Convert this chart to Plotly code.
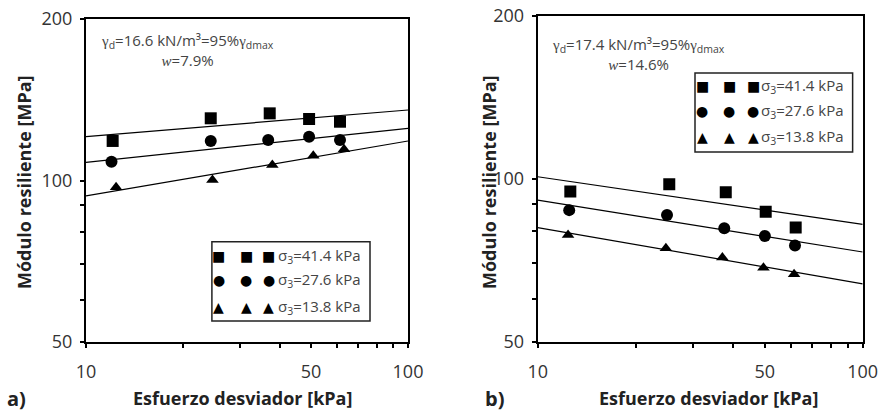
import numpy as np
import plotly.graph_objects as go

# Resilient modulus vs deviator stress, two soils (a, b), three confining stresses each
conf_labels = ["σ<sub>3</sub>=41.4 kPa", "σ<sub>3</sub>=27.6 kPa", "σ<sub>3</sub>=13.8 kPa"]
symbols = ["square", "circle", "triangle-up"]
legend_glyphs = ["■", "●", "▲"]

# Panel a) measured points (deviator stress kPa, modulus MPa)
a_x_414 = [12.1, 24.4, 37.2, 49.3, 61.5]
a_m_414 = [118.5, 130.6, 133.4, 130.2, 128.7]
a_x_276 = [12.0, 24.4, 36.8, 49.3, 61.5]
a_m_276 = [108.4, 118.5, 119.0, 120.7, 119.0]
a_x_138 = [12.4, 24.7, 37.9, 50.8, 63.3]
a_m_138 = [97.1, 100.2, 106.9, 111.2, 114.3]

# Panel a) power-law fits  M = k1 * sd^k2
a_k1 = [107.7, 93.4, 73.9]
a_k2 = [0.0496, 0.0634, 0.1025]

# Panel b) measured points
b_x_414 = [12.6, 25.4, 37.9, 50.3, 62.2]
b_m_414 = [94.8, 97.8, 94.5, 87.0, 81.4]
b_x_276 = [12.5, 25.0, 37.5, 50.0, 61.9]
b_m_276 = [87.6, 85.8, 81.1, 78.5, 75.4]
b_x_138 = [12.4, 24.8, 37.0, 49.5, 61.5]
b_m_138 = [78.8, 74.5, 71.6, 68.6, 66.7]

# Panel b) power-law fits
b_k1 = [123.6, 113.9, 103.3]
b_k2 = [-0.0879, -0.0957, -0.1039]

x_ticks = [10, 20, 30, 40, 50, 60, 70, 80, 90, 100]
x_ticktext = ["10", "", "", "", "50", "", "", "", "", "100"]
y_ticks = [50, 60, 70, 80, 90, 100, 200]
y_ticktext = ["50", "", "", "", "", "100", "200"]

fit_x = np.array([10.0, 100.0])

FONT = "Open Sans"
TXT = "#333333"

fig = go.Figure()

panels = [
    ("x", "y", [(a_x_414, a_m_414), (a_x_276, a_m_276), (a_x_138, a_m_138)], a_k1, a_k2),
    ("x2", "y2", [(b_x_414, b_m_414), (b_x_276, b_m_276), (b_x_138, b_m_138)], b_k1, b_k2),
]
marker_sizes = [12, 12, 11]

for xa, ya, series, k1s, k2s in panels:
    for k1, k2 in zip(k1s, k2s):
        fig.add_trace(go.Scatter(
            x=fit_x, y=k1 * fit_x ** k2, mode="lines",
            line=dict(color="black", width=1.2),
            xaxis=xa, yaxis=ya, showlegend=False, hoverinfo="skip"))
    for (sx, sy), sym, ms in zip(series, symbols, marker_sizes):
        fig.add_trace(go.Scatter(
            x=sx, y=sy, mode="markers",
            marker=dict(symbol=sym, size=ms, color="black"),
            xaxis=xa, yaxis=ya, showlegend=False))

axis_common = dict(
    type="log", showline=True, linewidth=2, linecolor="black", mirror=True,
    ticks="outside", ticklen=4, tickwidth=1.5, tickcolor="black",
    showgrid=False, zeroline=False, automargin=False,
    tickfont=dict(family=FONT, size=18, color=TXT),
)
x_extra = dict(ticklabelstandoff=8)
y_extra = dict(ticklabelstandoff=4)

fig.update_layout(
    width=880, height=413, autosize=False,
    margin=dict(l=0, r=0, t=0, b=0, pad=0),
    paper_bgcolor="white", plot_bgcolor="white",
    xaxis=dict(axis_common, **x_extra, domain=[86 / 880, 408 / 880], range=[1, 2],
               tickvals=x_ticks, ticktext=x_ticktext, anchor="y"),
    yaxis=dict(axis_common, **y_extra, domain=[1 - 342 / 413, 1 - 19 / 413],
               range=[np.log10(50), np.log10(200)],
               tickvals=y_ticks, ticktext=y_ticktext, anchor="x"),
    xaxis2=dict(axis_common, **x_extra, domain=[537.7 / 880, 862.7 / 880], range=[1, 2],
                tickvals=x_ticks, ticktext=x_ticktext, anchor="y2"),
    yaxis2=dict(axis_common, **y_extra, domain=[1 - 342 / 413, 1 - 16 / 413],
                range=[np.log10(50), np.log10(200)],
                tickvals=y_ticks, ticktext=y_ticktext, anchor="x2"),
)


def note(**kw):
    kw.setdefault("showarrow", False)
    kw.setdefault("xanchor", "center")
    kw.setdefault("yanchor", "middle")
    fig.add_annotation(**kw)


serif = '<span style="font-family:Liberation Serif">'
notes = [
    ("x", "y", 0.314, 0.904,
     serif + "γ</span><sub>d</sub>=16.6 kN/m³=95%" + serif + "γ</span><sub>dmax</sub><br>"
     + serif + "<i>w</i></span>=7.9%"),
    ("x2", "y2", 0.309, 0.883,
     serif + "γ</span><sub>d</sub>=17.4 kN/m³=95%" + serif + "γ</span><sub>dmax</sub><br>"
     + serif + "<i>w</i></span>=14.6%"),
]
for xa, ya, nx, ny, txt in notes:
    note(xref=xa + " domain", yref=ya + " domain", x=nx, y=ny,
         text=txt, align="center",
         font=dict(family=FONT, size=15, color="#444444"))

# Boxed legends with three symbols per row
legends = [
    ("x", "y", (0.391, 0.065, 0.882, 0.310), [0.413, 0.497, 0.568], 0.589,
     [0.266, 0.192, 0.108]),
    ("x2", "y2", (0.484, 0.583, 0.969, 0.825), [0.506, 0.589, 0.663], 0.681,
     [0.785, 0.709, 0.629]),
]
for xa, ya, box, gx, tx, rows in legends:
    fig.add_shape(type="rect", xref=xa + " domain", yref=ya + " domain",
                  x0=box[0], y0=box[1], x1=box[2], y1=box[3],
                  line=dict(color="#222", width=1.5), fillcolor="white")
    for glyph, lab, ry in zip(legend_glyphs, conf_labels, rows):
        for gxx in gx:
            note(xref=xa + " domain", yref=ya + " domain",
                 x=gxx, y=ry, text=glyph,
                 font=dict(family="DejaVu Sans", size=14, color="black"))
        note(xref=xa + " domain", yref=ya + " domain",
             x=tx, y=ry, xanchor="left", text=lab,
             font=dict(family=FONT, size=15, color="#444444"))

# Axis titles and panel letters
for cx in [242 / 880, 708 / 880]:
    note(xref="paper", yref="paper", x=cx, y=1 - 398 / 413,
         text="<b>Esfuerzo desviador [kPa]</b>",
         font=dict(family=FONT, size=18, color="#222"))
for cx in [24 / 880, 489 / 880]:
    note(xref="paper", yref="paper", x=cx, y=1 - 182 / 413,
         text="<b>Módulo resiliente [MPa]</b>", textangle=-90,
         font=dict(family=FONT, size=18, color="#222"))
for cx, letter in [(16 / 880, "a)"), (494 / 880, "b)")]:
    note(xref="paper", yref="paper", x=cx, y=1 - 398 / 413,
         text="<b>" + letter + "</b>",
         font=dict(family=FONT, size=20, color="#222"))

fig.write_html("out.html")
